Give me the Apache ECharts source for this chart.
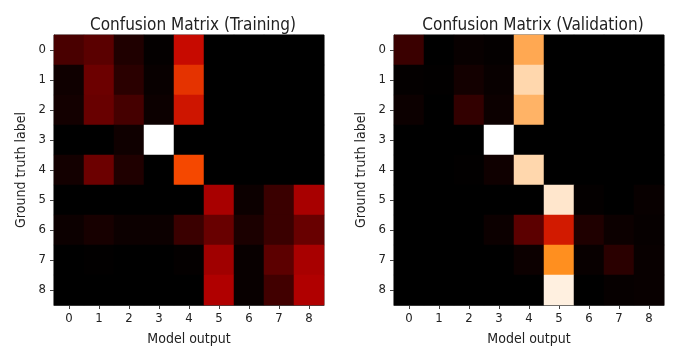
<!DOCTYPE html>
<html>
<head>
<meta charset="utf-8">
<script src="https://cdn.jsdelivr.net/npm/echarts@6/dist/echarts.min.js"></script>
<style>
  html, body { margin: 0; padding: 0; background: #fff; }
  #main { width: 682px; height: 353px; }
</style>
</head>
<body>
<div id="main"></div>
<script>
// class labels (0..8)
var classes = ['0', '1', '2', '3', '4', '5', '6', '7', '8'];

// normalized cell values, one row per ground truth label
var trainRows = [
    [0.19, 0.235, 0.08, 0.01, 0.52, 0, 0, 0, 0],
    [0.04, 0.28, 0.11, 0.02, 0.60, 0, 0, 0, 0],
    [0.05, 0.27, 0.18, 0.03, 0.54, 0, 0, 0, 0],
    [0, 0, 0.04, 1.0, 0, 0, 0, 0, 0],
    [0.05, 0.28, 0.08, 0, 0.64, 0, 0, 0, 0],
    [0, 0, 0, 0, 0, 0.44, 0.03, 0.15, 0.44],
    [0.03, 0.06, 0.03, 0.03, 0.15, 0.27, 0.07, 0.15, 0.27],
    [0, 0.005, 0, 0, 0.01, 0.42, 0.02, 0.24, 0.44],
    [0, 0, 0, 0, 0, 0.46, 0.02, 0.17, 0.46]
];

var validRows = [
    [0.15, 0, 0.02, 0.01, 0.83, 0, 0, 0, 0],
    [0.01, 0.005, 0.05, 0.02, 0.92, 0, 0, 0, 0],
    [0.03, 0, 0.13, 0.03, 0.85, 0, 0, 0, 0],
    [0, 0, 0, 1.0, 0, 0, 0, 0, 0],
    [0, 0, 0.005, 0.04, 0.92, 0, 0, 0, 0],
    [0, 0, 0, 0, 0, 0.95, 0.01, 0, 0.02],
    [0, 0, 0, 0.03, 0.24, 0.55, 0.08, 0.03, 0.015],
    [0, 0, 0, 0, 0.03, 0.78, 0.02, 0.11, 0.02],
    [0, 0, 0, 0, 0, 0.97, 0, 0.015, 0.02]
];

// gist_heat colour stops
var heatColors = ['#000000', '#200000', '#400000', '#600000', '#800000', '#9f0000', '#bf0000',
    '#df2b00', '#ff5500', '#ff8000', '#ffaa55', '#ffd5aa', '#ffffff'];

function toCells(rows) {
    var out = [];
    rows.forEach(function (row, y) {
        row.forEach(function (v, x) {
            out.push([x, y, v]);
        });
    });
    return out;
}

var chart = echarts.init(document.getElementById('main'));

var font = '"DejaVu Sans Condensed", "DejaVu Sans", sans-serif';
var grids = [
    { left: 54, top: 35, width: 270, height: 270 },
    { left: 394, top: 35, width: 270, height: 270 }
];

function xAxisFor(i) {
    return {
        type: 'category', gridIndex: i, data: classes, position: 'bottom',
        name: 'Model output', nameLocation: 'middle', nameGap: 27,
        nameTextStyle: { fontFamily: font, fontSize: 14, color: '#222' },
        axisLine: { show: true, lineStyle: { color: '#444' } },
        axisTick: { show: true, alignWithLabel: true, length: 4, lineStyle: { color: '#444' } },
        axisLabel: { fontFamily: font, fontSize: 13, color: '#222', margin: 7 },
        splitLine: { show: false }, splitArea: { show: false }
    };
}

function yAxisFor(i) {
    return {
        type: 'category', gridIndex: i, data: classes, inverse: true,
        name: 'Ground truth label', nameLocation: 'middle', nameGap: 26,
        nameTextStyle: { fontFamily: font, fontSize: 14, color: '#222' },
        axisLine: { show: true, lineStyle: { color: '#444' } },
        axisTick: { show: true, alignWithLabel: true, length: 4, lineStyle: { color: '#444' } },
        axisLabel: { fontFamily: font, fontSize: 13, color: '#222', margin: 8 },
        splitLine: { show: false }, splitArea: { show: false }
    };
}

var option = {
    backgroundColor: '#fff',
    animation: false,
    title: [
        { text: 'Confusion Matrix (Training)', left: 188, top: 12, textAlign: 'center',
          textStyle: { fontFamily: font, fontSize: 17, fontWeight: 'normal', color: '#222' } },
        { text: 'Confusion Matrix (Validation)', left: 528, top: 12, textAlign: 'center',
          textStyle: { fontFamily: font, fontSize: 17, fontWeight: 'normal', color: '#222' } }
    ],
    grid: grids.map(function (g) {
        return Object.assign({ show: true, borderColor: '#444', borderWidth: 1, backgroundColor: 'transparent' }, g);
    }),
    xAxis: [xAxisFor(0), xAxisFor(1)],
    yAxis: [yAxisFor(0), yAxisFor(1)],
    visualMap: [
        { show: false, seriesIndex: 0, min: 0, max: 1, inRange: { color: heatColors } },
        { show: false, seriesIndex: 1, min: 0, max: 1, inRange: { color: heatColors } }
    ],
    series: [
        { type: 'heatmap', xAxisIndex: 0, yAxisIndex: 0, data: toCells(trainRows),
          itemStyle: { borderWidth: 0 }, emphasis: { disabled: true } },
        { type: 'heatmap', xAxisIndex: 1, yAxisIndex: 1, data: toCells(validRows),
          itemStyle: { borderWidth: 0 }, emphasis: { disabled: true } }
    ]
};

chart.setOption(option);
</script>
</body>
</html>
